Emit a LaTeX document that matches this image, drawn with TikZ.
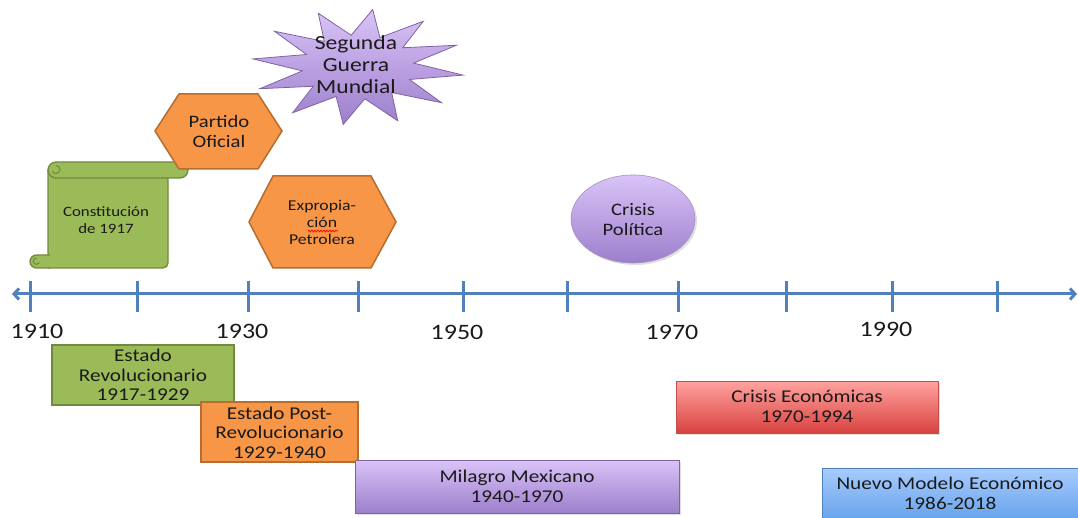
\documentclass[tikz,border=0pt]{standalone}
\usepackage{fontspec}
\setmainfont{Carlito}[FakeStretch=1.18]
\usetikzlibrary{arrows.meta,shadows,decorations.pathmorphing}
\definecolor{axisblue}{HTML}{4F81BD}
\definecolor{ogreen}{HTML}{9BBB59}
\definecolor{ogreenD}{HTML}{71893F}
\definecolor{oorange}{HTML}{F79646}
\definecolor{oorangeD}{HTML}{B66D31}
\definecolor{purpT}{HTML}{DAC3F8}
\definecolor{purpB}{HTML}{9C7FCB}
\definecolor{purpD}{HTML}{8064A2}
\definecolor{redT}{HTML}{FFA3A0}
\definecolor{redB}{HTML}{D8423F}
\definecolor{redD}{HTML}{C0504D}
\definecolor{bluT}{HTML}{A8CCFF}
\definecolor{bluB}{HTML}{5A9AE6}
\definecolor{bluD}{HTML}{4F81BD}
\definecolor{txt}{HTML}{1A1A1A}
\tikzset{
  axisline/.style={draw=axisblue, line width=3pt},
  tickline/.style={draw=axisblue, line width=3pt},
  yearlbl/.style={font=\fontsize{22}{24}\selectfont, text=txt, inner sep=0pt},
  boxtxt/.style={font=\fontsize{18}{19.5}\selectfont, text=txt, align=center, inner sep=0pt},
  greenbox/.style={draw=ogreenD, fill=ogreen, line width=1.5pt},
  orangebox/.style={draw=oorangeD, fill=oorange, line width=1.5pt},
  purplebox/.style={draw=purpD, top color=purpT, bottom color=purpB, line width=1pt,
     drop shadow={opacity=0.25, shadow xshift=2pt, shadow yshift=-2pt}},
  redbox/.style={draw=redD, top color=redT, bottom color=redB, line width=1pt,
     drop shadow={opacity=0.25, shadow xshift=2pt, shadow yshift=-2pt}},
  bluebox/.style={draw=bluD, top color=bluT, bottom color=bluB, line width=1pt,
     drop shadow={opacity=0.25, shadow xshift=2pt, shadow yshift=-2pt}},
  scrollpart/.style={draw=ogreenD, fill=ogreen, line width=1.3pt, line join=round},
  curl/.style={draw=ogreenD, line width=1pt, line cap=round},
}
\begin{document}
\begin{tikzpicture}[x=1pt,y=-1pt]
\useasboundingbox (0,0) rectangle (1078,518);
\fill[white] (0,0) rectangle (1078,518);

% ---------- axis ----------
\coordinate (axL) at (12,294);
\coordinate (axR) at (1077,294);
\draw[axisline, {Straight Barb[length=5pt,width=11pt]}-{Straight Barb[length=5pt,width=11pt]}] (axL) -- (axR);
\foreach \x in {30,137,248,358,463,567,678,786,892,997}
  \draw[tickline] (\x,281) -- (\x,312);

\node[yearlbl] (y1910) at (37,331) {1910};
\node[yearlbl] (y1930) at (242,331) {1930};
\node[yearlbl] (y1950) at (457,332) {1950};
\node[yearlbl] (y1970) at (672,332) {1970};
\node[yearlbl] (y1990) at (886,329) {1990};

% ---------- period boxes ----------
\draw[greenbox] (52,345) rectangle (234,405);
\node[boxtxt] (estrev) at (143,375) {Estado\\Revolucionario\\1917-1929};

\draw[orangebox] (201,402) rectangle (358,462);
\node[boxtxt] (postrev) at (279.5,432.5) {Estado Post-\\Revolucionario\\1929-1940};

\draw[purplebox] (355,460) rectangle (679,513);
\node[boxtxt] (milagro) at (517,486.5) {Milagro Mexicano\\1940-1970};

\draw[redbox] (676,381) rectangle (938,433);
\node[boxtxt] (crisisec) at (807,406.5) {Crisis Económicas\\1970-1994};

\draw[bluebox] (822,468) rectangle (1090,530);
\node[boxtxt] (nuevo) at (950,493.5) {Nuevo Modelo Económico\\1986-2018};

% ---------- scroll: Constitución ----------
% body
\draw[scrollpart] (48,170) -- (168,170) -- (168,263) arc[start angle=0, end angle=-90, radius=5pt] -- (48,268) -- cycle;
% bottom roll (left)
\draw[scrollpart] (50,255) -- (36.5,255) arc[start angle=90, end angle=270, radius=6.5pt] -- (50,268);
\draw[curl] (36.5,258) arc[start angle=90, end angle=330, radius=3.2pt];
% top roll
\draw[scrollpart] (56,162) -- (180,162) arc[start angle=90, end angle=-90, radius=8pt] -- (56,178) arc[start angle=270, end angle=90, radius=8pt] -- cycle;
\draw[curl] (56,165.5) arc[start angle=90, end angle=-150, radius=4pt];
\node[font=\fontsize{14.3}{16.5}\selectfont, text=txt, align=center, inner sep=0pt] (const) at (106,220) {Constitución\\de 1917};

% ---------- hexagons ----------
\draw[orangebox] (155,131) -- (179,94) -- (258,94) -- (282,131) -- (258,169) -- (179,169) -- cycle;
\node[font=\fontsize{17.5}{19.5}\selectfont, text=txt, align=center, inner sep=0pt] (partido) at (219,131.5) {Partido\\Oficial};

\draw[orangebox] (249,222) -- (273,176) -- (371,176) -- (396,222) -- (371,268) -- (273,268) -- cycle;
\node[font=\fontsize{15}{17}\selectfont, text=txt, align=center, inner sep=0pt] (expro) at (322,222) {Expropia-\\ción\\Petrolera};
\draw[red, line width=0.7pt, decorate, decoration={snake, amplitude=0.9pt, segment length=3pt}] (308,231) -- (338,231);

% ---------- star: Segunda Guerra Mundial ----------
\shade[draw=purpD, line width=0.8pt, top color=purpT, bottom color=purpB]
  ({358+106*cos(8)},{67+58*sin(8)})
  \foreach \k [evaluate=\k as \rx using {mod(\k,2)==0 ? 106 : 56},
               evaluate=\k as \ry using {mod(\k,2)==0 ? 58 : 32}] in {1,...,23}
  { -- ({358+\rx*cos(15*\k+8)},{67+\ry*sin(15*\k+8)}) } -- cycle;
\node[font=\fontsize{20}{22}\selectfont, text=txt, align=center, inner sep=0pt] (guerra) at (356,65) {Segunda\\Guerra\\Mundial};

% ---------- ellipse: Crisis Política ----------
\shade[draw=purpD!70, line width=0.6pt, top color=purpT, bottom color=purpB,
  drop shadow={opacity=0.25, shadow xshift=2pt, shadow yshift=-2pt}]
  (633,219) ellipse [x radius=62pt, y radius=44pt];
\node[font=\fontsize{17.5}{19.5}\selectfont, text=txt, align=center, inner sep=0pt] (crispol) at (633,219.5) {Crisis\\Política};
\end{tikzpicture}
\end{document}
